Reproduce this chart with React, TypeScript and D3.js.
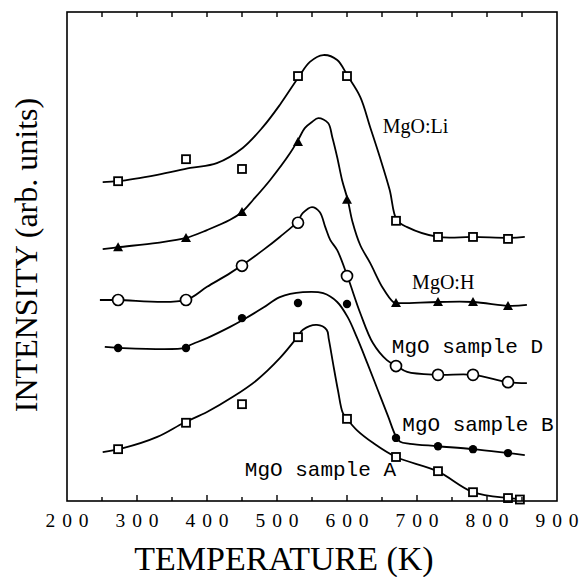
import React from "react";
import * as d3 from "d3";

// Temperatures (K) of the measured points, shared by all samples
const markerTemps = [273, 370, 450, 530, 600, 670, 730, 780, 830];

// Measured point intensities (arb. units)
const liPoints = [65.4, 69.9, 67.9, 86.9, 86.9, 57.3, 54.0, 54.0, 53.6];
const hPoints = [51.9, 53.8, 59.1, 73.4, 61.6, 40.5, 40.7, 40.7, 39.9];
const dPoints = [41.1, 41.1, 48.1, 56.9, 46.0, 27.6, 25.8, 25.8, 24.3];
const bPoints = [31.3, 31.3, 37.4, 40.5, 40.3, 12.9, 11.2, 10.6, 9.8];
const aPoints = [10.6, 16.0, 19.8, 33.5, 16.8, 9.0, 6.1, 1.8, 0.6];
const aExtraTemp = [847];
const aExtraPoint = [0.3];

// Smooth fitted curves [T, intensity]
const liCurve: [number, number][] = [
  [251, 65.2], [273, 65.4], [329, 66.7], [376, 68.1], [414, 69.1], [451, 72.2],
  [480, 76.5], [504, 81.0], [530, 86.5], [547, 89.8], [566, 91.2], [586, 90.2],
  [601, 86.9], [619, 82.6], [633, 76.5], [647, 70.3], [661, 63.6], [671, 57.5],
  [686, 56.0], [730, 54.0], [780, 54.0], [833, 53.8], [854, 54.0],
];
const hCurve: [number, number][] = [
  [251, 51.5], [273, 51.9], [329, 52.8], [370, 53.8], [400, 55.4], [433, 57.5],
  [450, 59.1], [466, 61.6], [490, 65.6], [519, 71.2], [530, 73.8], [540, 76.3],
  [550, 77.5], [559, 78.3], [573, 77.3], [579, 74.4], [586, 70.3], [593, 65.6],
  [601, 61.6], [608, 57.0], [619, 52.3], [633, 48.7], [651, 43.6], [666, 40.7],
  [671, 40.5], [730, 40.7], [780, 40.7], [833, 39.9], [857, 40.1],
];
const dCurve: [number, number][] = [
  [247, 41.1], [273, 41.1], [369, 41.1], [400, 43.8], [433, 46.6], [451, 48.3],
  [480, 51.3], [504, 54.0], [529, 57.1], [537, 58.9], [550, 60.1], [561, 59.1],
  [569, 56.0], [576, 53.4], [586, 51.3], [601, 45.8], [619, 38.4], [637, 32.3],
  [657, 28.8], [671, 27.6], [686, 26.4], [730, 25.8], [780, 25.8], [830, 24.3],
  [857, 24.1],
];
const bCurve: [number, number][] = [
  [254, 31.5], [273, 31.3], [369, 31.3], [376, 31.9], [400, 33.3], [433, 35.6],
  [451, 37.0], [480, 39.5], [504, 41.7], [537, 42.7], [566, 42.5], [586, 40.7],
  [601, 37.6], [614, 33.5], [629, 28.2], [644, 22.7], [659, 17.2], [669, 13.5],
  [676, 12.1], [690, 11.7], [730, 11.2], [780, 10.6], [830, 9.8], [854, 9.4],
];
const aCurve: [number, number][] = [
  [251, 10.0], [280, 10.8], [329, 13.1], [367, 16.0], [400, 18.2], [437, 21.3],
  [471, 24.7], [504, 29.2], [529, 33.5], [537, 35.0], [557, 36.0], [571, 35.0],
  [574, 33.1], [580, 28.2], [587, 22.7], [594, 18.0], [600, 16.8], [614, 14.5],
  [637, 11.9], [670, 9.0], [729, 6.1], [780, 1.8], [830, 0.6], [850, 0.4],
];

// Axis
const xTickLabels = [200, 300, 400, 500, 600, 700, 800, 900];
const xMinorTicks = [250, 300, 350, 400, 450, 500, 550, 600, 650, 700, 750, 800, 850];

// Annotation labels
const labelTexts = ["MgO:Li", "MgO:H", "MgO sample D", "MgO sample B", "MgO sample A"];
const labelTemps = [651, 693, 664, 679, 454];
const labelIntens = [75.3, 43.4, 30.3, 14.3, 5.1];
const labelMono = [false, false, true, true, true];

const W = 581;
const H = 577;
const x = d3.scaleLinear().domain([200, 900]).range([67, 557]);
const y = d3.scaleLinear().domain([0, 100]).range([501, 12]);

const line = d3
  .line<[number, number]>()
  .x((d) => x(d[0]))
  .y((d) => y(d[1]))
  .curve(d3.curveCatmullRom.alpha(0.5));

type Kind = "sq" | "tri" | "circ" | "dot";

function Marker({ cx, cy, kind }: { cx: number; cy: number; kind: Kind }) {
  if (kind === "sq")
    return <rect x={cx - 4} y={cy - 4} width={8} height={8} fill="#fff" stroke="#000" strokeWidth={1.8} />;
  if (kind === "tri")
    return <path d={`M${cx},${cy - 5}L${cx + 5},${cy + 4}L${cx - 5},${cy + 4}Z`} fill="#000" />;
  if (kind === "circ")
    return <circle cx={cx} cy={cy} r={5.5} fill="#fff" stroke="#000" strokeWidth={1.7} />;
  return <circle cx={cx} cy={cy} r={4.2} fill="#000" />;
}

const series: { curve: [number, number][]; temps: number[]; pts: number[]; kind: Kind }[] = [
  { curve: liCurve, temps: markerTemps, pts: liPoints, kind: "sq" },
  { curve: hCurve, temps: markerTemps, pts: hPoints, kind: "tri" },
  { curve: dCurve, temps: markerTemps, pts: dPoints, kind: "circ" },
  { curve: bCurve, temps: markerTemps, pts: bPoints, kind: "dot" },
  { curve: aCurve, temps: markerTemps.concat(aExtraTemp), pts: aPoints.concat(aExtraPoint), kind: "sq" },
];

export default function App() {
  const [x0, x1] = x.range();
  const [yb, yt] = y.range();
  return (
    <svg width={W} height={H} style={{ position: "absolute", left: 0, top: 0, background: "#fff" }}>
      <rect x={0} y={0} width={W} height={H} fill="#fff" />
      {series.map((s, i) => (
        <path key={"c" + i} d={line(s.curve) || ""} fill="none" stroke="#000" strokeWidth={1.8} />
      ))}
      {series.map((s, i) =>
        s.temps.map((t, j) => (
          <Marker key={`m${i}-${j}`} cx={x(t)} cy={y(s.pts[j])} kind={s.kind} />
        ))
      )}
      <rect x={x0} y={yt} width={x1 - x0} height={yb - yt} fill="none" stroke="#000" strokeWidth={1.6} />
      {xMinorTicks.map((t) => (
        <g key={"t" + t}>
          <line x1={x(t)} x2={x(t)} y1={yb} y2={yb - (t % 100 === 0 ? 6 : 4)} stroke="#000" strokeWidth={1.4} />
          <line x1={x(t)} x2={x(t)} y1={yt} y2={yt + 5} stroke="#000" strokeWidth={1.4} />
        </g>
      ))}
      {xTickLabels.map((t) => (
        <text
          key={"l" + t}
          x={x(t)}
          y={527}
          textAnchor="middle"
          fontFamily="Liberation Serif"
          fontSize={19.5}
          textLength={43}
          lengthAdjust="spacing"
        >
          {t}
        </text>
      ))}
      <text x={284} y={570} textAnchor="middle" fontFamily="Liberation Serif" fontSize={34}>
        TEMPERATURE (K)
      </text>
      <text
        transform={`translate(37,255) rotate(-90)`}
        textAnchor="middle"
        fontFamily="Liberation Serif"
        fontSize={32}
      >
        INTENSITY (arb. units)
      </text>
      {labelTexts.map((s, i) => (
        <text
          key={"a" + i}
          x={x(labelTemps[i])}
          y={y(labelIntens[i])}
          fontFamily={labelMono[i] ? "Liberation Mono" : "Liberation Serif"}
          fontSize={labelMono[i] ? 21 : 20}
          xmlSpace="preserve"
        >
          {s}
        </text>
      ))}
    </svg>
  );
}
